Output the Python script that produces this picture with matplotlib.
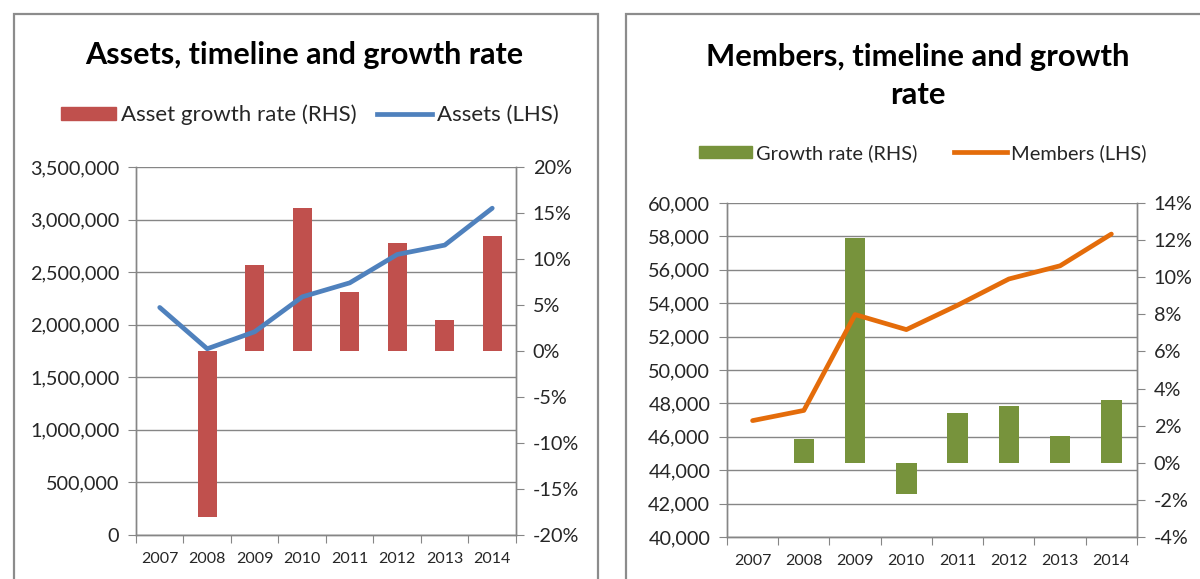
import numpy as np
import matplotlib.pyplot as plt
from matplotlib.patches import Rectangle, Patch
from matplotlib.lines import Line2D
from matplotlib.ticker import FuncFormatter

plt.rcParams['font.family'] = ['Lato', 'DejaVu Sans']

# data
years = ['2007', '2008', '2009', '2010', '2011', '2012', '2013', '2014']
assets = [2164000, 1771000, 1933000, 2265000, 2398000, 2668000, 2757000, 3108000]
asset_growth = [np.nan, -18.0, 9.3, 15.5, 6.4, 11.7, 3.4, 12.5]
members = [46970, 47580, 53320, 52420, 53880, 55450, 56240, 58140]
member_growth = [np.nan, 1.3, 12.1, -1.7, 2.7, 3.05, 1.45, 3.4]

GRAY = '#868686'
TXT = '#262626'

fig = plt.figure(figsize=(12, 5.79), dpi=100)

# panel frames
for x0, w in [(0.0117, 0.4867), (0.5217, 0.55)]:
    fig.patches.append(Rectangle((x0, -0.1), w, 1.0758, transform=fig.transFigure,
                                 fill=False, edgecolor='#8c8c8c', lw=1.6))


def make_panel(rect, line_vals, bar_vals, ylim, ystep, rlim, rstep, bar_color, line_color, lfmt):
    x = np.arange(len(years))
    ax = fig.add_axes(rect)
    ax.set_xlim(-0.5, len(years) - 0.5)
    ax.set_ylim(*ylim)
    ax.set_yticks(np.arange(ylim[0], ylim[1] + 1, ystep))
    ax.yaxis.set_major_formatter(FuncFormatter(lfmt))
    ax.grid(axis='y', color=GRAY, lw=1)
    ax.set_axisbelow(True)

    axb = ax.twinx()
    axb.bar(x, bar_vals, width=0.4, color=bar_color, zorder=2)
    axb.set_ylim(*rlim)
    axb.set_yticks(np.arange(rlim[0], rlim[1] + 0.1, rstep))
    axb.yaxis.set_major_formatter(FuncFormatter(lambda v, p: '%d%%' % v))

    axl = fig.add_axes(rect, sharex=ax, sharey=ax)
    axl.patch.set_visible(False)
    axl.axis('off')
    axl.plot(x, line_vals, color=line_color, lw=3.4, solid_capstyle='round', solid_joinstyle='round')

    ax.set_xticks(np.arange(-0.5, len(years), 1))
    ax.set_xticklabels([])
    ax.set_xticks(x, minor=True)
    ax.set_xticklabels(years, minor=True)
    ax.tick_params(axis='x', which='minor', length=0, pad=12, labelsize=11.5, labelcolor=TXT)
    ax.tick_params(axis='x', which='major', length=6, color=GRAY, direction='out')
    ax.tick_params(axis='y', length=6, color=GRAY, labelsize=14.3, labelcolor=TXT, pad=6)
    axb.tick_params(axis='y', length=6, color=GRAY, labelsize=14.3, labelcolor=TXT, pad=6)
    for a in (ax, axb):
        a.spines['top'].set_visible(False)
        for s in ('left', 'right', 'bottom'):
            a.spines[s].set_color(GRAY)
            a.spines[s].set_linewidth(1)
    return ax


make_panel([0.1133, 0.076, 0.3167, 0.6356], assets, asset_growth,
           (0, 3500000), 500000, (-20, 20), 5, '#C0504D', '#4F81BD',
           lambda v, p: '{:,.0f}'.format(v))
make_panel([0.6058, 0.0725, 0.3417, 0.5769], members, member_growth,
           (40000, 60000), 2000, (-4, 14), 2, '#77933C', '#E46C0A',
           lambda v, p: '{:,.0f}'.format(v))

fig.text(0.2533, 0.905, 'Assets, timeline and growth rate', ha='center', va='center',
         fontsize=22, fontweight='bold', color='black')
fig.text(0.765, 0.8687, 'Members, timeline and growth\nrate', ha='center', va='center',
         fontsize=22.3, fontweight='bold', color='black', linespacing=1.4)

fig.legend(handles=[Patch(color='#C0504D', label='Asset growth rate (RHS)'),
                    Line2D([], [], color='#4F81BD', lw=3.4, label='Assets (LHS)')],
           loc='center', bbox_to_anchor=(0.258, 0.8014), ncol=2, frameon=False,
           fontsize=16, handlelength=2.5, handleheight=0.55, handletextpad=0.2,
           columnspacing=0.9, labelcolor=TXT)
fig.legend(handles=[Patch(color='#77933C', label='Growth rate (RHS)'),
                    Line2D([], [], color='#E46C0A', lw=3.4, label='Members (LHS)')],
           loc='center', bbox_to_anchor=(0.769, 0.7358), ncol=2, frameon=False,
           fontsize=14.4, handlelength=2.65, handleheight=0.6, handletextpad=0.2,
           columnspacing=1.85, labelcolor=TXT)

fig.savefig('out.png', dpi=100)
